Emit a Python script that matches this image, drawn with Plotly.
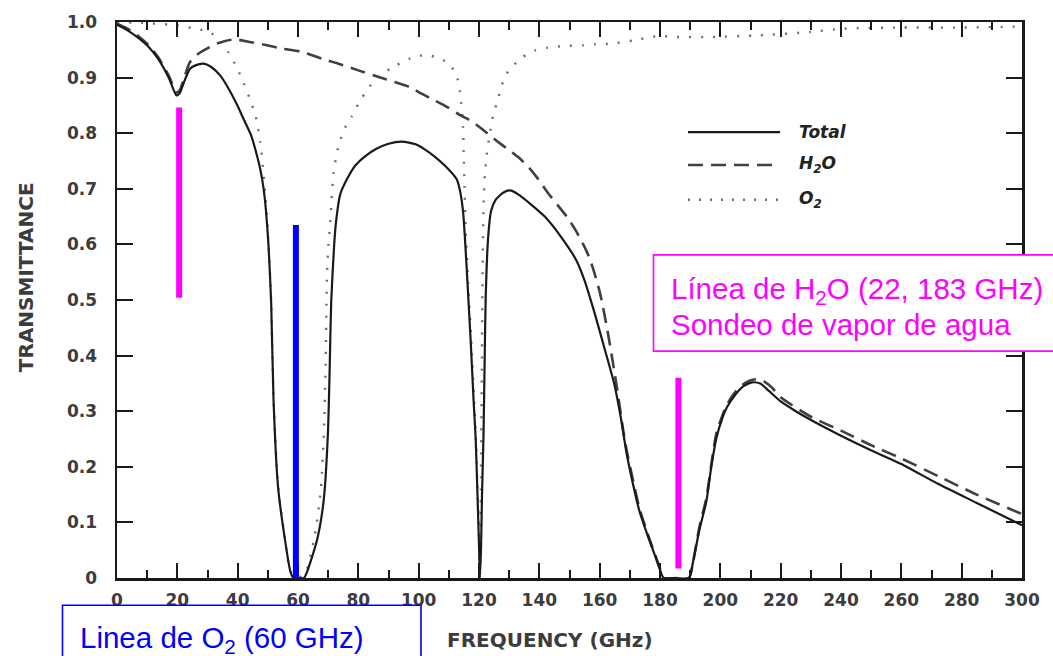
import plotly.graph_objects as go

# ---------------- data ----------------
total_freq = [0, 3.5, 7.4, 10.5, 13.6, 17.3, 19.7, 20.8, 22, 24.2, 26, 28.7, 31, 34.2, 37, 39.8,
              42, 44.4, 46, 47.5, 48.6, 49.4, 50.2, 51.1, 51.9, 53.4, 55.7, 57.5, 58.5, 60, 62,
              63, 66.3, 68.5, 69.9, 70.5, 71.0, 72.0, 72.6, 74, 76.2, 79, 82.1, 86, 90, 94.5, 99,
              102, 105.3, 109, 112.6, 113.6, 114.7, 115.3, 116.3, 117.3, 118.2, 118.9, 119.5,
              120.0, 120.3, 120.7, 121.0, 121.5, 121.9, 122.2, 123.0, 124.0, 125.5, 128, 130.3,
              133, 137, 141.8, 147, 152.2, 155, 158.4, 161.5, 164.8, 166.9, 169, 171, 173.2, 176,
              178.5, 180, 181.2, 185.5, 189.6, 191, 193, 195.4, 197, 198.7, 200.5, 202.1, 205,
              207.7, 210.5, 213.2, 216, 219.9, 225, 230.8, 240, 250.3, 260, 272.3, 285, 300]
total_trans = [0.995, 0.985, 0.97, 0.955, 0.934, 0.898, 0.868, 0.872, 0.889, 0.916, 0.922, 0.925,
               0.92, 0.904, 0.88, 0.851, 0.825, 0.797, 0.768, 0.735, 0.70, 0.66, 0.60, 0.496,
               0.318, 0.163, 0.068, 0.011, 0.0, 0.0, 0.0, 0.011, 0.068, 0.139, 0.258, 0.377,
               0.496, 0.60, 0.64, 0.69, 0.717, 0.742, 0.758, 0.772, 0.781, 0.785, 0.78, 0.771,
               0.758, 0.74, 0.717, 0.699, 0.66, 0.615, 0.52, 0.42, 0.32, 0.25, 0.15, 0.06, 0.0,
               0.06, 0.15, 0.26, 0.40, 0.50, 0.61, 0.66, 0.68, 0.693, 0.697, 0.69, 0.673, 0.65,
               0.615, 0.572, 0.535, 0.475, 0.415, 0.35, 0.292, 0.222, 0.17, 0.12, 0.075, 0.038,
               0.015, 0.0, 0.0, 0.0, 0.03, 0.085, 0.139, 0.2, 0.252, 0.285, 0.306, 0.33, 0.345,
               0.352, 0.35, 0.337, 0.318, 0.3, 0.282, 0.256, 0.229, 0.205, 0.169, 0.135, 0.095]

h2o_freq = [0, 3.5, 7.4, 10.5, 13.6, 17.3, 19.7, 20.8, 22, 24.2, 27, 29.8, 32.5, 35.3, 38, 40.3,
            44, 48.9, 55, 61.5, 68, 73.4, 80, 86.8, 92, 97, 101, 105.3, 109.5, 113.6, 118, 122,
            125.7, 129.3, 133, 136.6, 139.7, 142.8, 146, 149.1, 152.2, 155.3, 157, 160, 162.6,
            165.8, 167.9, 169, 171, 173.2, 176, 178.5, 180, 181.2, 185.5, 189.6, 191, 193, 195.4,
            198.7, 202, 205, 208, 211, 214, 217, 220, 230, 240, 250.3, 260, 272.3, 285, 300]
h2o_trans = [0.997, 0.988, 0.973, 0.958, 0.937, 0.902, 0.873, 0.877, 0.895, 0.928, 0.943, 0.952,
             0.96, 0.965, 0.968, 0.968, 0.964, 0.959, 0.952, 0.946, 0.934, 0.925, 0.913, 0.901,
             0.892, 0.883, 0.871, 0.859, 0.847, 0.833, 0.82, 0.803, 0.787, 0.772, 0.757, 0.738,
             0.717, 0.693, 0.671, 0.65, 0.624, 0.592, 0.57, 0.515, 0.445, 0.34, 0.262, 0.228,
             0.177, 0.125, 0.078, 0.04, 0.017, 0.0, 0.0, 0.0, 0.03, 0.09, 0.145, 0.26, 0.31,
             0.335, 0.35, 0.357, 0.355, 0.343, 0.325, 0.29, 0.265, 0.238, 0.215, 0.183, 0.15, 0.115]

o2_freq = [0, 10, 20, 23, 27, 31, 34, 37, 40, 42, 44, 46, 47.5, 48.9, 50, 51.1, 51.9, 53.4, 55.7,
           57.5, 60, 62.5, 65.5, 67.6, 68.7, 69.2, 69.6, 70.1, 70.7, 71.8, 73.4, 75.6, 77.8, 81,
           85.3, 90.6, 97, 101.2, 104.2, 107.4, 110.5, 112.6, 113.6, 114.1, 114.7, 114.9, 115.2,
           115.6, 116.4, 117.4, 118.9, 120, 120.3, 120.6, 120.9, 121.2, 121.5, 122, 122.5, 123.1,
           124.6, 126.2, 127.2, 128.8, 131.4, 134.5, 138.6, 142.8, 149, 154.3, 158.6, 163.7,
           171.3, 179.6, 185, 196.6, 213, 229.7, 240.6, 260, 280, 300]
o2_trans = [1.0, 0.998, 0.994, 0.991, 0.987, 0.981, 0.966, 0.945, 0.915, 0.89, 0.862, 0.83, 0.785,
            0.705, 0.625, 0.50, 0.32, 0.165, 0.07, 0.012, 0.0, 0.01, 0.075, 0.16, 0.28, 0.40,
            0.544, 0.60, 0.64, 0.73, 0.776, 0.81, 0.83, 0.862, 0.895, 0.916, 0.934, 0.94, 0.939,
            0.934, 0.922, 0.904, 0.877, 0.854, 0.812, 0.77, 0.705, 0.625, 0.53, 0.43, 0.26, 0.07,
            0.0, 0.15, 0.35, 0.55, 0.669, 0.729, 0.758, 0.782, 0.83, 0.86, 0.88, 0.904, 0.922,
            0.937, 0.949, 0.954, 0.957, 0.958, 0.96, 0.961, 0.967, 0.975, 0.973, 0.973, 0.976,
            0.982, 0.988, 0.99, 0.99, 0.992]

x_tick_vals = [0, 20, 40, 60, 80, 100, 120, 140, 160, 180, 200, 220, 240, 260, 280, 300]
x_tick_labels = ["0", "20", "40", "60", "80", "100", "120", "140", "160", "180", "200",
                 "220", "240", "260", "280", "300"]
y_tick_vals = [0, 0.1, 0.2, 0.3, 0.4, 0.5, 0.6, 0.7, 0.8, 0.9, 1.0]
y_tick_labels = ["0", "0.1", "0.2", "0.3", "0.4", "0.5", "0.6", "0.7", "0.8", "0.9", "1.0"]

series_names = ["Total", "H<sub>2</sub>O", "O<sub>2</sub>"]

# ---------------- figure ----------------
INK = "#1a1a1a"
LBL = "#3c3c3c"
FONT = "DejaVu Sans"

fig = go.Figure()
fig.add_trace(go.Scatter(x=o2_freq, y=o2_trans, mode="lines", name="O2", hoverinfo="skip",
                         line=dict(color="#6e6e6e", width=2.4, dash="2px,10px",
                                   shape="spline", smoothing=0.6)))
fig.add_trace(go.Scatter(x=h2o_freq, y=h2o_trans, mode="lines", name="H2O", hoverinfo="skip",
                         line=dict(color="#404040", width=2.6, dash="15px,8px",
                                   shape="spline", smoothing=0.6)))
fig.add_trace(go.Scatter(x=total_freq, y=total_trans, mode="lines", name="Total",
                         hoverinfo="skip",
                         line=dict(color=INK, width=2.2, shape="spline", smoothing=0.6)))

# plot-area pixel geometry: x 117..1022, y 18..578
L, R, T, B = 117, 1022, 18, 578
def px(xp):
    return (xp - L) / (R - L)
def py(yp):
    return (B - yp) / (B - T)

shapes = []
annotations = []

# legend (drawn by hand to match the long sample lines)
legend_rows = [(129, "solid", "#1a1a1a", 2.2), (162, "15px,8px", "#404040", 2.6),
               (197, "2px,9px", "#6e6e6e", 2.4)]
for (yy, dash, col, w), name in zip(legend_rows, series_names):
    shapes.append(dict(type="line", xref="paper", yref="paper", x0=px(688), x1=px(780),
                       y0=py(yy), y1=py(yy), line=dict(color=col, width=w, dash=dash)))
    annotations.append(dict(xref="paper", yref="paper", x=px(797), y=py(yy), text=name,
                            showarrow=False, xanchor="left", yanchor="middle",
                            font=dict(family=FONT, size=17, color="#222",
                                      style="italic", weight=600)))

# coloured marker lines
marker_lines = [(20.6, 0.504, 0.846, "#FF00FF"), (59.3, 0.0, 0.635, "#0000FF"),
                (186.1, 0.017, 0.36, "#FF00FF")]
for xv, y0, y1, col in marker_lines:
    shapes.append(dict(type="line", xref="x", yref="y", x0=xv, x1=xv, y0=y0, y1=y1,
                       line=dict(color=col, width=6), layer="above"))

# magenta box (right)
shapes.append(dict(type="rect", xref="paper", yref="paper", x0=px(653.5), x1=px(1070),
                   y0=py(349.5), y1=py(252.5), fillcolor="white",
                   line=dict(color="#FF00FF", width=1.6), layer="above"))
annotations.append(dict(xref="paper", yref="paper", x=px(669), y=py(288),
                        text="Línea de H<sub>2</sub>O (22, 183 GHz)", showarrow=False,
                        xanchor="left", yanchor="middle",
                        font=dict(family="Liberation Sans", size=29.5, color="#FF00FF")))
annotations.append(dict(xref="paper", yref="paper", x=px(669), y=py(323),
                        text="Sondeo de vapor de agua", showarrow=False,
                        xanchor="left", yanchor="middle",
                        font=dict(family="Liberation Sans", size=29.5, color="#FF00FF")))

# blue box (bottom left)
shapes.append(dict(type="rect", xref="paper", yref="paper", x0=px(62.5), x1=px(421),
                   y0=py(680), y1=py(605.5), fillcolor="white",
                   line=dict(color="#0000FF", width=1.6), layer="above"))
annotations.append(dict(xref="paper", yref="paper", x=px(78), y=py(640),
                        text="Linea de O<sub>2</sub> (60 GHz)", showarrow=False,
                        xanchor="left", yanchor="middle",
                        font=dict(family="Liberation Sans", size=29.5, color="#0000FF")))

# axis titles
annotations.append(dict(xref="paper", yref="paper", x=px(26), y=py(275),
                        text="TRANSMITTANCE", showarrow=False, textangle=-90,
                        xanchor="center", yanchor="middle",
                        font=dict(family=FONT, size=20, color=LBL, weight="bold")))
annotations.append(dict(xref="paper", yref="paper", x=px(550), y=py(640),
                        text="FREQUENCY (GHz)", showarrow=False,
                        xanchor="center", yanchor="middle",
                        font=dict(family=FONT, size=20, color=LBL, weight="bold")))

axis_common = dict(showgrid=False, zeroline=False, showline=True, linecolor=INK,
                   linewidth=2.5, mirror="allticks", ticks="inside", tickcolor=INK,
                   tickwidth=2,
                   tickfont=dict(family=FONT, size=17, color=LBL, weight="bold"))

fig.update_layout(
    width=1053, height=656,
    margin=dict(l=L, r=1053 - R, t=T, b=656 - B),
    paper_bgcolor="white", plot_bgcolor="white",
    showlegend=False,
    xaxis=dict(range=[0, 300], tickmode="array", tickvals=x_tick_vals,
               ticktext=x_tick_labels, ticklen=15, ticklabelstandoff=5,
               minor=dict(dtick=10, tick0=0, ticks="inside", ticklen=8, tickwidth=2,
                          tickcolor=INK),
               **axis_common),
    yaxis=dict(range=[0, 1], tickmode="array", tickvals=y_tick_vals,
               ticktext=y_tick_labels, ticklen=16, ticklabelstandoff=14,
               **axis_common),
    shapes=shapes,
    annotations=annotations,
)

fig.write_html("out.html",
               config={"displayModeBar": False, "staticPlot": True},
               post_script="document.body.style.margin='0';document.body.style.overflow='hidden';")
